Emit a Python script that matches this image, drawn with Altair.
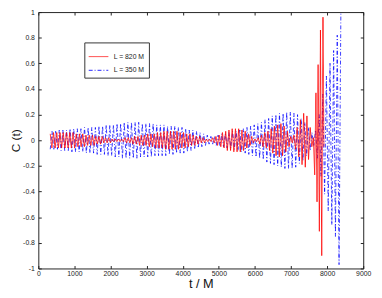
import altair as alt
import pandas as pd

# ---- data (values in hundredths of C(t)) ----
series_names = ["L = 820 M", "L = 350 M"]

# L = 820 M : successive extrema, evenly spaced from t=330 every 45 M
red_t0, red_dt = 330, 45
red_extrema = [
    5, -6, 6, -6, 6, -6, 6, -6, 6, -6, 6, -6, 6, -6, 6, -6,
    5, -5, 5, -5, 5, -5,
    4, -4, 4, -4, 4, -4,
    3, -3, 3, -3, 3,
    -2, 2, -2, 2, -2,
    1, -1, 1, -1, 1, -1, 1, -1,
    2, -2, 2, -2, 2,
    -3, 3, -3, 3,
    -4, 4, -4, 4, -4,
    5, -5, 5, -5, 5,
    -6, 6, -6, 6, -6,
    7, -7, 7, -7, 7, -7, 7, -7, 7, -7,
    6, -6, 6, -6,
    5, -5, 5,
    -4, 4, -4,
    3, -3, 3,
    -2, 2, -2,
    1, -1, 1, -1,
    2, -2, 3, -4, 4, -5, 6, -6, 7, -8, 8, -8, 9, -9, 9, -9, 9, -9,
    8, -8, 7, -6, 5, -4, 3, -2, 1, -1,
    2, -3, 4, -5, 6, -6, 7, -8, 9, -10, 11, -12, 12, -13, 13,
    -12, 11, -9, 7, -5, 3, -2,
    4, -7, 10, -13, 16, -19, 21, -21, 19, -15, 10, -5, 2,
]
# final burst of L = 820 M
red_tail_t = [7655, 7690, 7720, 7750, 7785, 7815, 7850, 7885, 7910]
red_tail_c = [-27, 37, -48, 59, -71, 86, -90, 96, -5]

# L = 350 M : successive extrema, evenly spaced from t=330 every 50 M
blue_t0, blue_dt = 330, 50
blue_extrema = [
    -7, 7, -7, 7, -7,
    8, -8, 8, -8, 8, -8,
    9, -9, 9, -9, 9, -9, 9, -9,
    10, -10, 10, -10, 10, -10, 10,
    -11, 11, -11, 11, -11,
    12, -12, 12, -12, 12,
    -13, 13, -13, 13,
    -14, 14, -14, 14, -14, 14, -14, 14, -14, 14,
    -13, 13, -13, 13, -13, 13, -13, 13,
    -12, 12, -12, 12, -12, 12, -12,
    11, -11, 11, -11, 11,
    -10, 10, -10, 10, -10,
    9, -9,
    8, -8, 8,
    -7, 7,
    -6, 6,
    -5, 5,
    -4, 4,
    -3, 3, -3, 3,
    -4, 4, -4,
    5, -5, 5,
    -6, 6, -6,
    7, -7, 7,
    -8, 8, -9, 9, -10, 10, -11, 11, -12, 12, -13, 13, -14, 14,
    -15, 16, -17, 17, -18, 19, -19, 20, -20, 21, -21, 21, -22, 22, -22, 22, -22,
    21, -21, 20, -18, 17, -16, 14, -12, 10, -8, 6, -4,
    8, -14, 20, -28, 36, -42, 50, -55, 60, -66, 70, -75, 82, -97, 99,
]

x_tick_values = [0, 1000, 2000, 3000, 4000, 5000, 6000, 7000, 8000, 9000]
y_tick_values = [-1, -0.8, -0.6, -0.4, -0.2, 0, 0.2, 0.4, 0.6, 0.8, 1]

# ---- build table ----
rows = []
for i, c in enumerate(red_extrema):
    rows.append({"t": red_t0 + red_dt * i, "c": c / 100, "series": series_names[0]})
for t, c in zip(red_tail_t, red_tail_c):
    rows.append({"t": t, "c": c / 100, "series": series_names[0]})
for i, c in enumerate(blue_extrema):
    rows.append({"t": blue_t0 + blue_dt * i, "c": c / 100, "series": series_names[1]})
df = pd.DataFrame(rows)

FONT = "Liberation Sans"
INK = "#222222"
xscale = alt.Scale(domain=[0, 9000], nice=False, zero=False)
yscale = alt.Scale(domain=[-1, 1], nice=False, zero=False)

# inward ticks: axis pulled 3px inside the frame, ticks 3px long pointing out to the frame
xaxis = alt.Axis(values=x_tick_values, labelExpr="format(datum.value, 'd')",
                 title="t / M", tickSize=3, offset=-3, domain=False, grid=False,
                 labelFontSize=7, labelPadding=1, titleFontSize=13,
                 titlePadding=1, titleFontWeight="normal", labelFlush=False,
                 labelOverlap=False, labelBound=False, tickColor=INK)
yaxis = alt.Axis(values=y_tick_values,
                 labelExpr="replace(format(datum.value, '~g'), '\u2212', '-')",
                 title="C (t)", tickSize=3, offset=-3, domain=False, grid=False,
                 labelFontSize=7, labelPadding=4, titleFontSize=12,
                 titlePadding=0, titleFontWeight="normal", labelFlush=False,
                 labelOverlap=False, labelBound=False, tickColor=INK)
top_axis = alt.Axis(orient="top", values=x_tick_values, labels=False, title=None,
                    tickSize=3, offset=-3, domain=False, grid=False, tickColor=INK)
right_axis = alt.Axis(orient="right", values=y_tick_values, labels=False, title=None,
                      tickSize=3, offset=-3, domain=False, grid=False, tickColor=INK)

color = alt.Color("series:N",
                  scale=alt.Scale(domain=series_names, range=["#ff0000", "#0000ff"]),
                  legend=alt.Legend(title=None))
dash = alt.StrokeDash("series:N",
                      scale=alt.Scale(domain=series_names, range=[[1, 0], [4, 2, 1, 2]]),
                      legend=alt.Legend(title=None))

base = alt.Chart(df).encode(
    x=alt.X("t:Q", scale=xscale, axis=xaxis),
    y=alt.Y("c:Q", scale=yscale, axis=yaxis),
    color=color,
    strokeDash=dash,
)
blue = base.transform_filter(alt.datum.series == series_names[1]).mark_line(
    strokeWidth=0.9, opacity=0.85)
red = base.transform_filter(alt.datum.series == series_names[0]).mark_line(
    strokeWidth=1, opacity=0.85)

frame_ticks = alt.Chart(df).mark_line(opacity=0).encode(
    x=alt.X("t:Q", scale=xscale, axis=top_axis),
    y=alt.Y("c:Q", scale=yscale, axis=right_axis),
    detail="series:N",
)

chart = alt.layer(alt.layer(blue, red), frame_ticks).resolve_axis(
    x="independent", y="independent"
).properties(
    width=332, height=262,
    autosize=alt.AutoSizeParams(type="none"),
    padding={"left": 31, "top": 1, "right": 11, "bottom": 27},
    background="white",
).configure_view(
    stroke=INK, strokeWidth=1
).configure_axis(
    labelFont=FONT, titleFont=FONT, labelColor=INK, titleColor="#111111",
    labelOverlap=False, labelBound=False,
).configure_legend(
    orient="none", legendX=47, legendY=31,
    padding=4, strokeColor="#333333", fillColor="white",
    labelFont=FONT, labelFontSize=7, labelColor=INK,
    symbolType="stroke", symbolSize=400, symbolStrokeWidth=1,
    labelOffset=5, rowPadding=-8, cornerRadius=0,
)

chart.save("out.html", embed_options={"renderer": "svg", "actions": False})
